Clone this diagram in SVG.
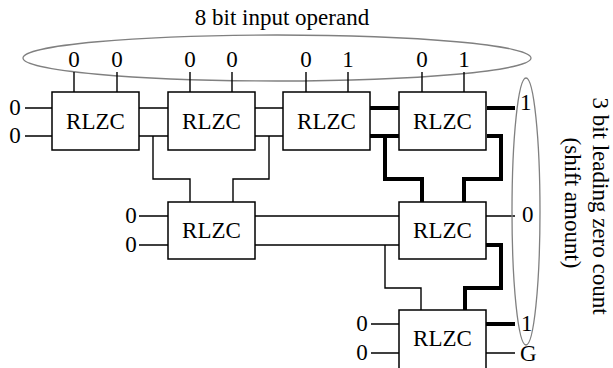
<svg xmlns="http://www.w3.org/2000/svg" width="613" height="368" viewBox="0 0 613 368" font-family="'Liberation Serif', 'Times New Roman', serif">
<style>
.box{fill:#fff;stroke:#000;stroke-width:1.5}
.thin{fill:none;stroke:#000;stroke-width:1.4}
.thick{fill:none;stroke:#000;stroke-width:4}
.ell{fill:none;stroke:#808080;stroke-width:1.3}
</style>
<rect width="613" height="368" fill="#fff"/>
<text x="282" y="25" font-size="23" text-anchor="middle">8 bit input operand</text>
<ellipse class="ell" cx="277" cy="58" rx="254" ry="23"/>
<g font-size="23" text-anchor="middle">
<text x="74" y="67">0</text><text x="117" y="67">0</text>
<text x="190" y="67">0</text><text x="232" y="67">0</text>
<text x="306" y="67">0</text><text x="348" y="67">1</text>
<text x="422" y="67">0</text><text x="464" y="67">1</text>
<text x="15" y="115">0</text><text x="15" y="143">0</text>
<text x="131" y="223">0</text><text x="131" y="252">0</text>
<text x="362" y="331">0</text><text x="362" y="360">0</text>
</g>
<g id="connectors">
<path class="thin" d="M74 72V92M117 72V92M190 72V92M232 72V92M306 72V92M348 72V92M422 72V92M464 72V92"/>
<path class="thin" d="M25 108H52M25 136H52M139 108H168M139 136H168M255 108H283M255 136H283"/>
<path class="thin" d="M153 136V179H190V202M269 136V179H233V202"/>
<path class="thick" d="M370 108H399M370 136H399M385 136V179H422V202M487 136H501V179H464V202M487 108H515"/>
<path class="thin" d="M139 216H168M139 245H168M255 216H399M255 245H399M385 245V288H421V310M486 216H515"/>
<path class="thick" d="M486 245H501V288H465V310M486 324H515"/>
<path class="thin" d="M371 324H399M371 353H399M486 353H515"/>
</g>
<g font-size="23" text-anchor="middle">
<g id="n1"><rect class="box" x="52" y="92" width="87" height="58"/><text x="95.5" y="129">RLZC</text></g>
<g id="n2"><rect class="box" x="168" y="92" width="87" height="58"/><text x="211.5" y="129">RLZC</text></g>
<g id="n3"><rect class="box" x="283" y="92" width="87" height="58"/><text x="326.5" y="129">RLZC</text></g>
<g id="n4"><rect class="box" x="399" y="92" width="87" height="58"/><text x="442.5" y="129">RLZC</text></g>
<g id="n5"><rect class="box" x="168" y="202" width="87" height="57"/><text x="211.5" y="238">RLZC</text></g>
<g id="n6"><rect class="box" x="399" y="202" width="87" height="57"/><text x="442.5" y="238">RLZC</text></g>
<g id="n7"><rect class="box" x="399" y="310" width="87" height="60"/><text x="442.5" y="346">RLZC</text></g>
</g>
<ellipse class="ell" cx="526" cy="211.5" rx="14" ry="133.5"/>
<g font-size="23">
<text x="520" y="110">1</text>
<text x="522" y="222">0</text>
<text x="521" y="331">1</text>
<text x="520" y="361">G</text>
</g>
<g font-size="23" text-anchor="middle">
<text transform="translate(593,206) rotate(90)">3 bit leading zero count</text>
<text transform="translate(565,203) rotate(90)">(shift amount)</text>
</g>
</svg>
